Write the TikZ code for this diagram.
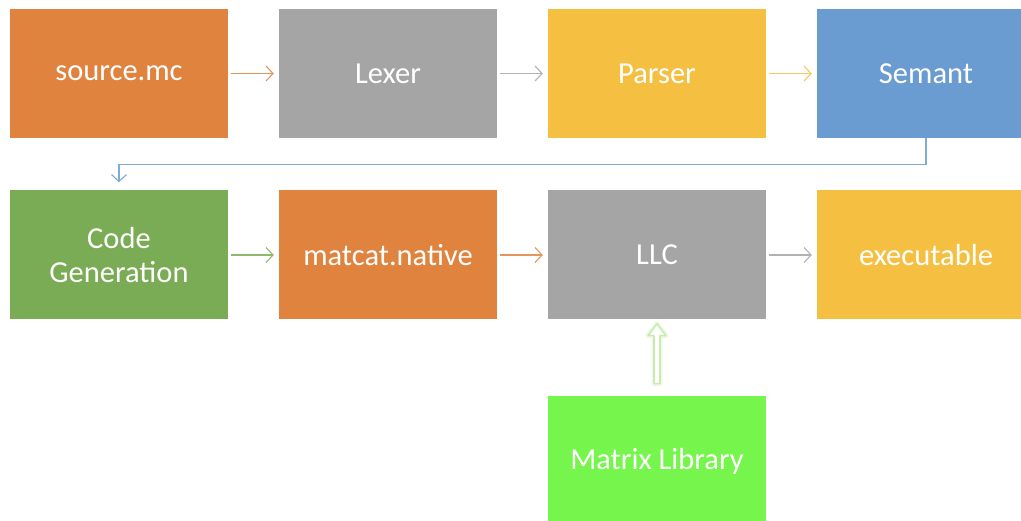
\documentclass[tikz,border=0pt]{standalone}
\usepackage{fontspec}
\setmainfont{Carlito}
\usetikzlibrary{arrows.meta}
\definecolor{corange}{HTML}{E0833F}
\definecolor{cgray}{HTML}{A5A5A5}
\definecolor{cyellow}{HTML}{F5BF42}
\definecolor{cblue}{HTML}{6A9BD1}
\definecolor{cgreen}{HTML}{7AAB55}
\definecolor{clime}{HTML}{76F54C}
\definecolor{cpale}{HTML}{C8EBB0}
\definecolor{cglow}{HTML}{EEF9E6}
\tikzset{
  box/.style={draw=none, fill=#1, minimum width=218pt, minimum height=129pt,
    inner sep=0pt, text=white, font=\fontsize{30.5}{34}\selectfont, align=center},
  flow/.style={draw=#1!85!white, line width=1.1pt, -{Straight Barb[length=7pt,width=15pt,line width=1.1pt]}},
}
\begin{document}
\begin{tikzpicture}[x=1pt,y=-1pt]
\useasboundingbox (0,0) rectangle (1021,521);
\begin{scope}
\clip (0,0) rectangle (1021,521);
\node[box=corange] (src) at (119,73.5) {source.mc};
\node[box=cgray] (lex) at (388,73.5) {Lexer};
\node[box=cyellow] (par) at (657,73.5) {Parser};
\node[box=cblue] (sem) at (926,73.5) {Semant};
\node[box=cgreen] (cg) at (119,255) {Code\\Generation};
\node[box=corange] (nat) at (388,255) {matcat.native};
\node[box=cgray] (llc) at (657,255) {LLC};
\node[box=cyellow] (exe) at (926,255) {executable};
\node[box=clime] (lib) at (657,461) {Matrix Library};
\end{scope}
\draw[flow=corange] ([xshift=3pt]src.east) -- ([xshift=-5pt]lex.west);
\draw[flow=cgray] ([xshift=3pt]lex.east) -- ([xshift=-5pt]par.west);
\draw[flow=cyellow] ([xshift=3pt]par.east) -- ([xshift=-5pt]sem.west);
\draw[flow=cblue] (sem.south) -- ++(0,26) -| ([yshift=8pt]cg.north);
\draw[flow=cgreen] ([xshift=3pt]cg.east) -- ([xshift=-5pt]nat.west);
\draw[flow=corange] ([xshift=3pt]nat.east) -- ([xshift=-5pt]llc.west);
\draw[flow=cgray] ([xshift=3pt]llc.east) -- ([xshift=-5pt]exe.west);
\coordinate (tip) at ([yshift=-4pt]llc.south);
\begin{scope}[shift={(tip)}]
\draw[cglow, line width=5pt, line join=round, fill=white]
  (0,0) -- (9,12) -- (3,12) -- (3,60) -- (-3,60) -- (-3,12) -- (-9,12) -- cycle;
\draw[cpale, line width=1.6pt, line join=round, fill=white]
  (0,0) -- (9,12) -- (3,12) -- (3,60) -- (-3,60) -- (-3,12) -- (-9,12) -- cycle;
\end{scope}
\end{tikzpicture}
\end{document}
